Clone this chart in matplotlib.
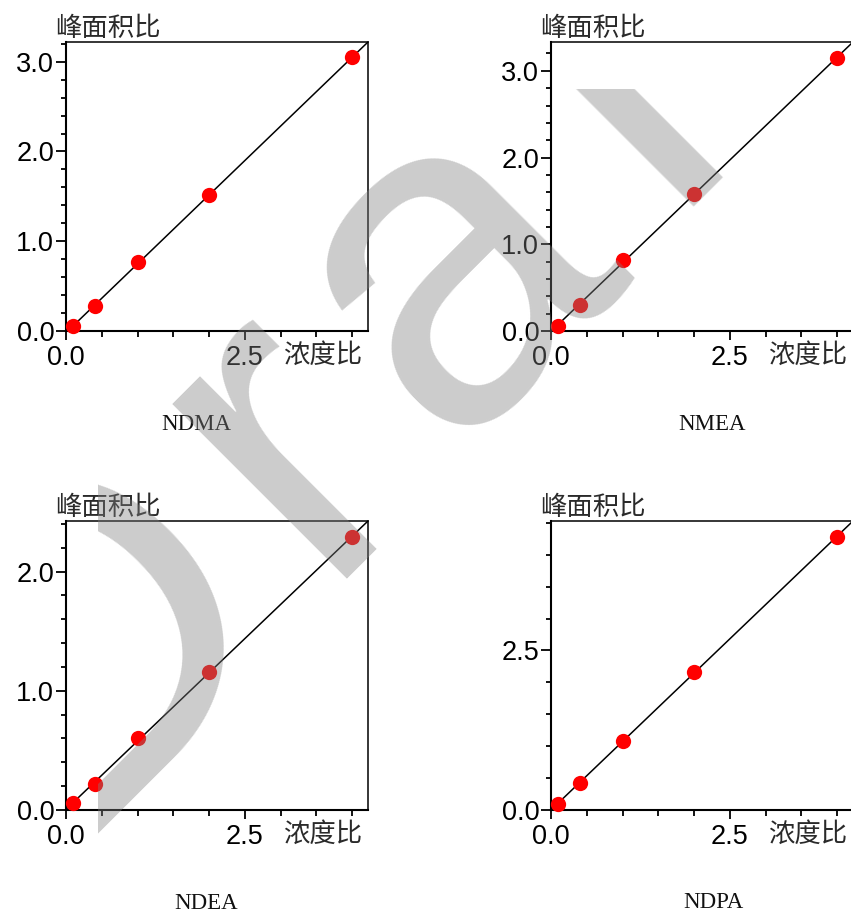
import numpy as np
import matplotlib
matplotlib.use("Agg")
import matplotlib.pyplot as plt
from matplotlib.ticker import MultipleLocator, FormatStrFormatter
from matplotlib.transforms import Bbox, TransformedBbox

# data
conc = [0.1, 0.4, 1.0, 2.0, 4.0]
names = ["NDMA", "NMEA", "NDEA", "NDPA"]
ratio_ndma = [0.056, 0.276, 0.77, 1.51, 3.05]
ratio_nmea = [0.058, 0.30, 0.82, 1.58, 3.15]
ratio_ndea = [0.055, 0.22, 0.60, 1.16, 2.29]
ratio_ndpa = [0.10, 0.42, 1.08, 2.17, 4.28]
y_major = [1.0, 1.0, 1.0, 2.5]
y_minor = [0.2, 0.2, 0.2, 0.5]
x_max = 4.22

plt.rcParams['font.family'] = ['Liberation Sans', 'Noto Sans CJK SC']
plt.rcParams['axes.linewidth'] = 1.5

W, H = 851, 913
fig = plt.figure(figsize=(W / 100, H / 100), dpi=100)

# panel boxes in pixels: left, top, right, bottom
boxes = [(66, 42, 368, 331), (551, 42, 853, 331),
         (66, 521, 368, 810), (551, 521, 853, 810)]
# title anchors (x centre, baseline) in pixels
title_pos = [(196, 430), (712, 430), (206, 909), (713, 908)]

series = [ratio_ndma, ratio_nmea, ratio_ndea, ratio_ndpa]
cjk = 'Noto Sans CJK SC'

for i, (l, t, r, b) in enumerate(boxes):
    ax = fig.add_axes([l / W, 1 - b / H, (r - l) / W, (b - t) / H])
    x = np.array(conc)
    y = np.array(series[i])
    slope, intercept = np.polyfit(x, y, 1)
    xf = np.array([0.0, x_max])
    ax.plot(xf, slope * xf + intercept, color='black', lw=1.1, zorder=2)
    ax.plot(x, y, 'o', color='red', ms=11, mec='none', zorder=3, clip_on=False)

    ax.set_xlim(0, x_max)
    ax.set_ylim(0, slope * x_max + intercept)

    ax.xaxis.set_major_locator(MultipleLocator(2.5))
    ax.xaxis.set_minor_locator(MultipleLocator(0.5))
    ax.yaxis.set_major_locator(MultipleLocator(y_major[i]))
    ax.yaxis.set_minor_locator(MultipleLocator(y_minor[i]))
    ax.xaxis.set_major_formatter(FormatStrFormatter('%.1f'))
    ax.yaxis.set_major_formatter(FormatStrFormatter('%.1f'))

    ax.tick_params(which='both', direction='out', top=False, right=False,
                   width=1.3, labelsize=19.5)
    ax.tick_params(axis='y', which='major', length=7, pad=1.5)
    ax.tick_params(axis='y', which='minor', length=3.5)
    ax.tick_params(axis='x', which='major', length=6.5, pad=3.5)
    ax.tick_params(axis='x', which='minor', length=4)

    ax.spines['top'].set_linewidth(1.1)
    ax.spines['right'].set_linewidth(1.1)

    ax.annotate('峰面积比', xy=(0, 1), xycoords='axes fraction',
                xytext=(-8, 10), textcoords='offset points',
                ha='left', va='center', fontsize=19, family=cjk,
                fontweight='light', color='#2a2a2a')
    ax.annotate('浓度比', xy=(1, 0), xycoords='axes fraction',
                xytext=(-4.5, -17.5), textcoords='offset points',
                ha='right', va='center', fontsize=19, family=cjk,
                fontweight='light', color='#2a2a2a')

    tx, ty = title_pos[i]
    fig.text(tx / W, 1 - ty / H, names[i], ha='center', va='baseline',
             fontsize=16.5, family='Liberation Serif', color='#111111')

# grey "Draft" watermark, letter by letter along a 45 degree baseline
wm_letters = ['D', 'r', 'a', 'f', 't']
wm_offsets = [-560, -187, -2, 305, 478]   # pen position along baseline, px
wm_base = -632                            # baseline offset, px
clip = TransformedBbox(Bbox([[98 / W, 0], [1, 1 - 89 / H]]), fig.transFigure)
c = np.sqrt(0.5)
for ch, u in zip(wm_letters, wm_offsets):
    px = c * (u - wm_base)
    py = -c * (u + wm_base)
    wt = fig.text(px / W, 1 - py / H, ch, fontsize=338,
                  family='Liberation Sans', color=(0.5, 0.5, 0.5), alpha=0.4,
                  rotation=45, rotation_mode='anchor', ha='left',
                  va='baseline', zorder=10)
    wt.set_clip_box(clip)
    wt.set_clip_on(True)

fig.savefig('out.png', dpi=100)
